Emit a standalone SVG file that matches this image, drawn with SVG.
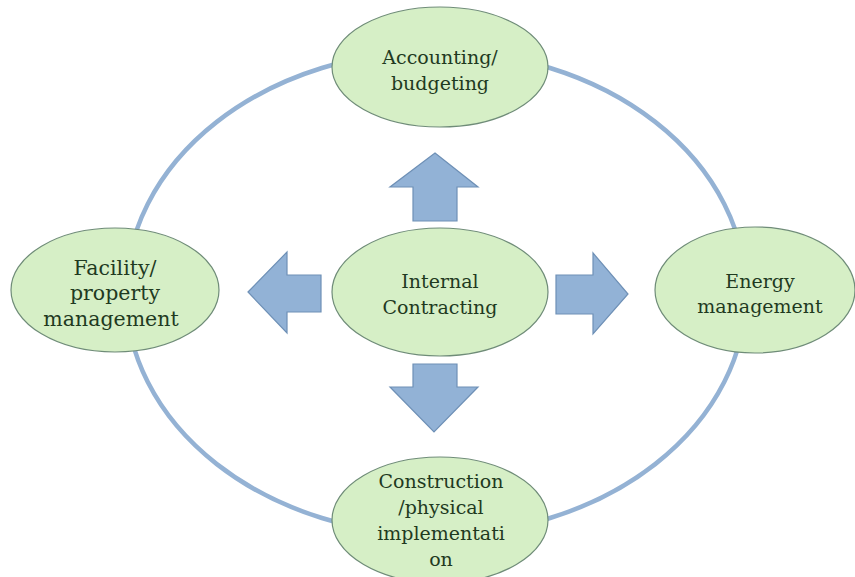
<svg xmlns="http://www.w3.org/2000/svg" width="855" height="577" viewBox="0 0 855 577">
<style>
.ring{fill:none;stroke:#94b2d4;stroke-width:4.5}
.node{fill:#d6efc6;stroke:#6f8c78;stroke-width:1.2}
.arrow{fill:#92b2d6;stroke:#6e90b6;stroke-width:1.2}
text{font-family:"DejaVu Serif","Liberation Serif",serif;font-size:19px;fill:#1f3a1f;text-anchor:middle}
.big{font-size:20.5px}
</style>
<rect width="855" height="577" fill="#ffffff"/>
<g id="connectors">
<ellipse class="ring" cx="436" cy="293" rx="310" ry="242"/>
<polygon class="arrow" points="435,153 478,187 457,187 457,221 413,221 413,187 390,187"/>
<polygon class="arrow" points="413,364 457,364 457,387 478,387 434,432 390,387 413,387"/>
<polygon class="arrow" points="556,275 593,275 593,253 628,294 593,334 593,314 556,314"/>
<polygon class="arrow" points="248,292 287,252 287,275 321,275 321,312 287,312 287,333"/>
</g>
<g id="accounting">
<ellipse class="node" cx="440" cy="67" rx="108" ry="60"/>
<text x="440" y="64">Accounting/</text>
<text x="440" y="90">budgeting</text>
</g>
<g id="internal">
<ellipse class="node" cx="440" cy="292" rx="108" ry="64"/>
<text x="440" y="288">Internal</text>
<text x="440" y="314">Contracting</text>
</g>
<g id="facility">
<ellipse class="node" cx="115" cy="290" rx="104" ry="62"/>
<text class="big" x="115" y="275">Facility/</text>
<text class="big" x="115" y="300">property</text>
<text class="big" x="111" y="326">management</text>
</g>
<g id="energy">
<ellipse class="node" cx="755" cy="290" rx="100" ry="63"/>
<text x="760" y="288">Energy</text>
<text x="760" y="313">management</text>
</g>
<g id="construction">
<ellipse class="node" cx="440" cy="520" rx="108" ry="63"/>
<text x="441" y="488">Construction</text>
<text x="441" y="514">/physical</text>
<text x="441" y="540">implementati</text>
<text x="441" y="566">on</text>
</g>
</svg>
